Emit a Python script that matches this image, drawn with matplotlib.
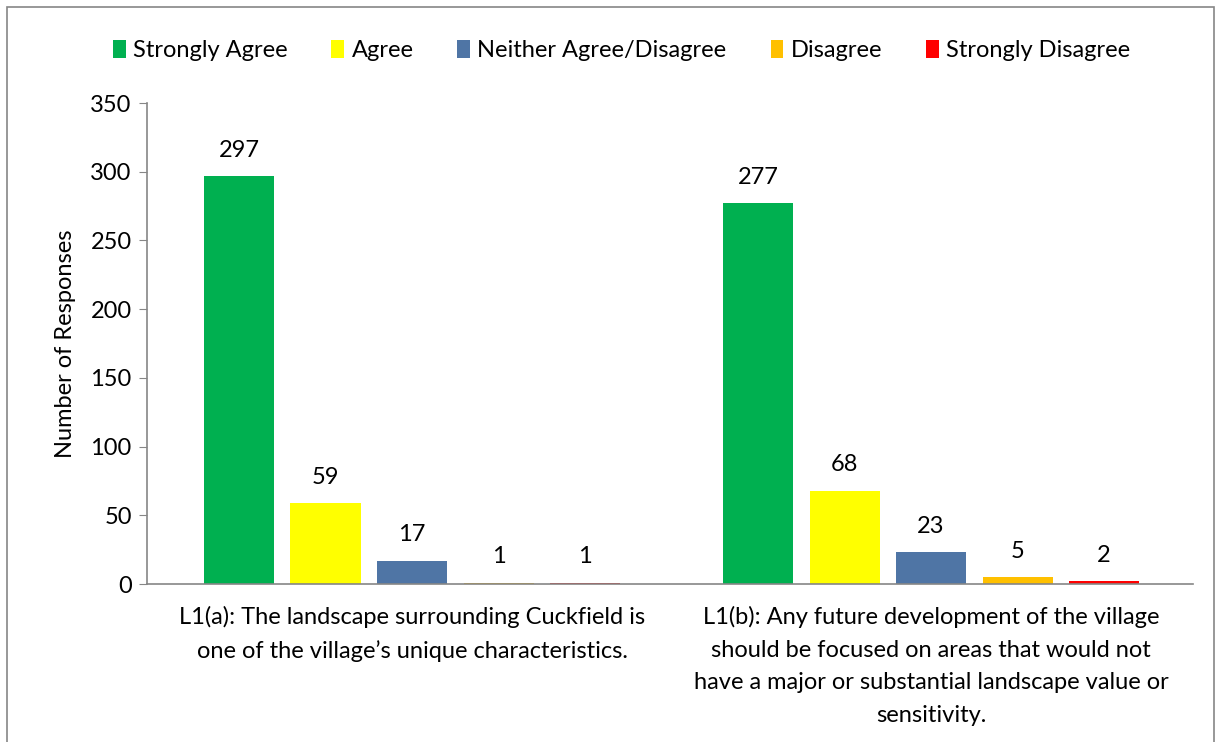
"""
L1 landscape questions: responses by agreement level
"""
import matplotlib
matplotlib.use('Agg')
import matplotlib.pyplot as plt
from matplotlib.patches import Rectangle
import numpy as np

plt.rcParams['font.family'] = ['Lato', 'DejaVu Sans']

questions = [
    'L1(a): The landscape surrounding Cuckfield is\none of the village\u2019s unique characteristics.',
    'L1(b): Any future development of the village\nshould be focused on areas that would not\nhave a major or substantial landscape value or\nsensitivity.',
]
levels = ['Strongly Agree', 'Agree', 'Neither Agree/Disagree', 'Disagree', 'Strongly Disagree']
strongly_agree = [297, 277]
agree = [59, 68]
neither = [17, 23]
disagree = [1, 5]
strongly_disagree = [1, 2]
series = [strongly_agree, agree, neither, disagree, strongly_disagree]
colors = ['#00b050', '#ffff00', '#4f75a5', '#ffc000', '#ff0000']

FS = 17

fig = plt.figure(figsize=(12.22, 7.42), dpi=100)
ax = fig.add_axes([0.1203, 0.2129, 0.856, 0.6482])

x = np.arange(len(questions))
width = 0.1349
step = 0.1667
for i, (vals, label, color) in enumerate(zip(series, levels, colors)):
    pos = x + (i - 2) * step
    ax.bar(pos, vals, width=width, color=color, label=label)
    for p, v in zip(pos, vals):
        ax.annotate(str(v), xy=(p, v), xytext=(0, 11), textcoords='offset points',
                    ha='center', va='bottom', fontsize=FS)

ax.set_xlim(-0.5106, 1.5048)
ax.set_ylim(0, 350)
ax.set_yticks(range(0, 351, 50))
ax.set_xticks(x)
ax.set_xticklabels(questions, fontsize=FS, linespacing=1.68)
ax.tick_params(axis='x', length=0, pad=16)
ax.tick_params(axis='y', labelsize=FS, length=6, color='#868686', pad=5)
ax.set_ylabel('Number of Responses', fontsize=FS, labelpad=10)

for s in ['top', 'right']:
    ax.spines[s].set_visible(False)
for s in ['left', 'bottom']:
    ax.spines[s].set_color('#868686')
    ax.spines[s].set_linewidth(1.2)

ax.legend(loc='center', bbox_to_anchor=(0.4536, 1.11), ncol=5, frameon=False,
          fontsize=FS, handlelength=0.55, handleheight=0.8, handletextpad=0.3,
          columnspacing=1.86, borderpad=0)

fig.add_artist(Rectangle((7 / 1222, -0.02), 1207 / 1222, 735 / 742 + 0.02,
                         transform=fig.transFigure, fill=False,
                         edgecolor='#868686', linewidth=1.2))

fig.savefig('out.png', dpi=100)
print("saved: out.png")
